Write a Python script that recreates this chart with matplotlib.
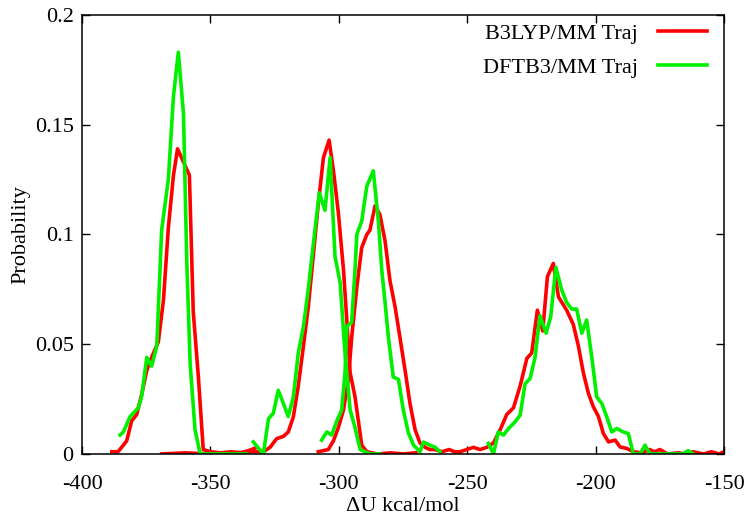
import matplotlib
matplotlib.use("Agg")
import matplotlib.pyplot as plt

plt.rcParams['font.family'] = ['Liberation Serif', 'DejaVu Serif']
plt.rcParams['axes.unicode_minus'] = False

# B3LYP/MM trajectories (red), one histogram per window
red1_x = [-388.4, -386, -383.9, -382.6, -380.7, -378.7, -376.8, -374.8, -372.9, -370.3, -368.3,
          -366.4, -364.4, -362.8, -360.5, -358.2, -356.7, -354.7, -352.8, -350, -346, -342, -338, -334, -332]
red1_y = [0.001, 0.001, 0.004, 0.006, 0.015, 0.018, 0.027, 0.038, 0.044, 0.051, 0.070,
          0.103, 0.127, 0.139, 0.133, 0.127, 0.065, 0.035, 0.002, 0.001, 0.0005, 0.001, 0.0005, 0.002, 0.003]

red2_x = [-369, -360, -350, -340, -334.6, -329.4, -326.8, -324.2, -321.6, -319.7, -317.7, -315.8,
          -313.8, -311.9, -309.9, -308.0, -306.0, -303.8, -302.1, -300.2, -298.2, -296.9, -295.6,
          -293.7, -292.4, -291.1, -289.1, -285, -280, -275, -270]
red2_y = [0.0, 0.0005, 0.0, 0.0005, 0.001, 0.001, 0.003, 0.007, 0.008, 0.010, 0.017, 0.031,
          0.049, 0.067, 0.091, 0.114, 0.135, 0.143, 0.129, 0.110, 0.084, 0.061, 0.037,
          0.026, 0.015, 0.004, 0.001, 0.0, 0.0005, 0.0, 0.0005]

red3_x = [-308.0, -304.1, -302.1, -300.2, -298.2, -296.3, -295.0, -293.0, -291.1, -289.1, -287.9,
          -285.9, -284.0, -282.0, -280.1, -278.1, -276.2, -274.2, -272.3, -270.3, -268.4, -266.4,
          -264.5, -262.5, -260, -257, -255, -252.8]
red3_y = [0.001, 0.002, 0.006, 0.012, 0.020, 0.034, 0.053, 0.076, 0.094, 0.100, 0.102,
          0.113, 0.109, 0.097, 0.079, 0.067, 0.053, 0.038, 0.023, 0.011, 0.005, 0.003,
          0.002, 0.002, 0.001, 0.002, 0.001, 0.001]

red4_x = [-252.8, -250.2, -247.6, -245.0, -242.4, -239.8, -237.2, -234.6, -232.0, -229.4, -226.8,
          -224.9, -222.7, -220.6, -218.8, -216.5, -214.5, -211.3, -208.7, -206.7, -204.8, -202.8,
          -200.9, -198.9, -197.0, -195.0, -192.4, -190.5, -187.9, -185.3, -182, -179, -177, -175,
          -172, -168, -165, -162, -158, -155, -152, -150]
red4_y = [0.001, 0.002, 0.003, 0.002, 0.003, 0.005, 0.011, 0.018, 0.021, 0.031, 0.0435,
          0.046, 0.0655, 0.056, 0.0807, 0.0868, 0.0716, 0.0655, 0.059, 0.049, 0.037, 0.0275,
          0.0215, 0.017, 0.0093, 0.0055, 0.0063, 0.0032, 0.0025, 0.001, 0.0005, 0.002, 0.001, 0.002,
          0.0, 0.0005, 0.0, 0.001, 0.0, 0.001, 0.0, 0.001]

# DFTB3/MM trajectories (green)
grn1_x = [-385.2, -383.9, -381.3, -378.1, -376.8, -374.8, -372.9, -370.9, -369.0, -366.4, -364.4,
          -362.5, -360.5, -359.2, -357.9, -356.0, -354.0, -350, -345, -340, -336]
grn1_y = [0.0086, 0.010, 0.017, 0.021, 0.026, 0.044, 0.040, 0.049, 0.102, 0.125, 0.163,
          0.183, 0.155, 0.087, 0.041, 0.011, 0.0, 0.0, 0.0, 0.0, 0.0]

grn2_x = [-333.3, -331.3, -329.4, -327.4, -325.5, -323.6, -321.6, -319.7, -317.7, -315.8, -313.8,
          -311.9, -309.9, -307.6, -305.4, -303.4, -301.5, -299.5, -297.6, -295.6, -293.7, -291.7,
          -288, -284]
grn2_y = [0.0055, 0.0026, 0.0, 0.016, 0.0186, 0.029, 0.023, 0.017, 0.026, 0.046, 0.058,
          0.075, 0.096, 0.119, 0.111, 0.135, 0.090, 0.078, 0.046, 0.020, 0.012, 0.002,
          0.0, 0.0]

grn3_x = [-306.7, -304.7, -302.8, -300.8, -298.9, -297.6, -296.9, -295.0, -293.7, -293.0, -291.1,
          -289.1, -286.6, -284.6, -283.3, -282.0, -280.7, -278.8, -276.8, -274.9, -272.9, -270.9,
          -268.4, -267.1, -264.5, -262.5, -260.6]
grn3_y = [0.0063, 0.010, 0.0086, 0.015, 0.020, 0.037, 0.058, 0.060, 0.084, 0.100, 0.106,
          0.122, 0.129, 0.106, 0.084, 0.069, 0.053, 0.035, 0.034, 0.020, 0.0095, 0.004,
          0.001, 0.0054, 0.004, 0.003, 0.001]

grn4_x = [-241.8, -239.8, -237.9, -235.9, -233.9, -231.4, -229.4, -227.5, -225.5, -223.6, -221.7,
          -219.3, -217.5, -215.5, -213.2, -211.3, -209.3, -207.4, -205.4, -203.5, -201.5, -199.6,
          -197.6, -195.7, -193.7, -191.8, -189.2, -187.3, -185.3, -182.7, -180.8, -178.8, -172,
          -166, -164, -162]
grn4_y = [0.0048, 0.0, 0.010, 0.0086, 0.0116, 0.0146, 0.0177, 0.032, 0.0344, 0.044, 0.063,
          0.055, 0.0625, 0.085, 0.0746, 0.069, 0.066, 0.066, 0.055, 0.061, 0.044, 0.026,
          0.023, 0.017, 0.010, 0.0116, 0.010, 0.0093, 0.0, 0.0, 0.004, 0.0, 0.0,
          0.0, 0.0015, 0.0]

red_curves = [(red1_x, red1_y), (red2_x, red2_y), (red3_x, red3_y), (red4_x, red4_y)]
grn_curves = [(grn1_x, grn1_y), (grn2_x, grn2_y), (grn3_x, grn3_y), (grn4_x, grn4_y)]

fig = plt.figure(figsize=(7.54, 5.26), dpi=100)
ax = fig.add_axes([0.1088, 0.137, 0.8515, 0.8345])

for i, (x, y) in enumerate(red_curves):
    ax.plot(x, y, color='#ff0000', lw=2.6, label="B3LYP/MM Traj" if i == 0 else None)
for i, (x, y) in enumerate(grn_curves):
    ax.plot(x, y, color='#00f000', lw=2.6, label="DFTB3/MM Traj" if i == 0 else None)

ax.set_xlim(-400, -150)
ax.set_ylim(0, 0.2)
ax.set_xticks([-400, -350, -300, -250, -200, -150])
ax.set_yticks([0, 0.05, 0.1, 0.15, 0.2])
ax.set_yticklabels(["0", "0.05", "0.1", "0.15", "0.2"])
ax.tick_params(direction='in', top=True, right=True, length=6, width=1, labelsize=16)
ax.tick_params(axis='x', pad=15)
ax.tick_params(axis='y', pad=6)
for s in ax.spines.values():
    s.set_linewidth(1.1)

ax.set_xlabel("ΔU kcal/mol", fontsize=16, labelpad=2)
ax.set_ylabel("Probability", fontsize=16, labelpad=3)

ax.legend(loc='upper right', frameon=False, markerfirst=False, fontsize=16,
          handlelength=2.2, handletextpad=0.9, labelspacing=0.6,
          bbox_to_anchor=(1.004, 1.026))

fig.savefig("out.png", dpi=100)
